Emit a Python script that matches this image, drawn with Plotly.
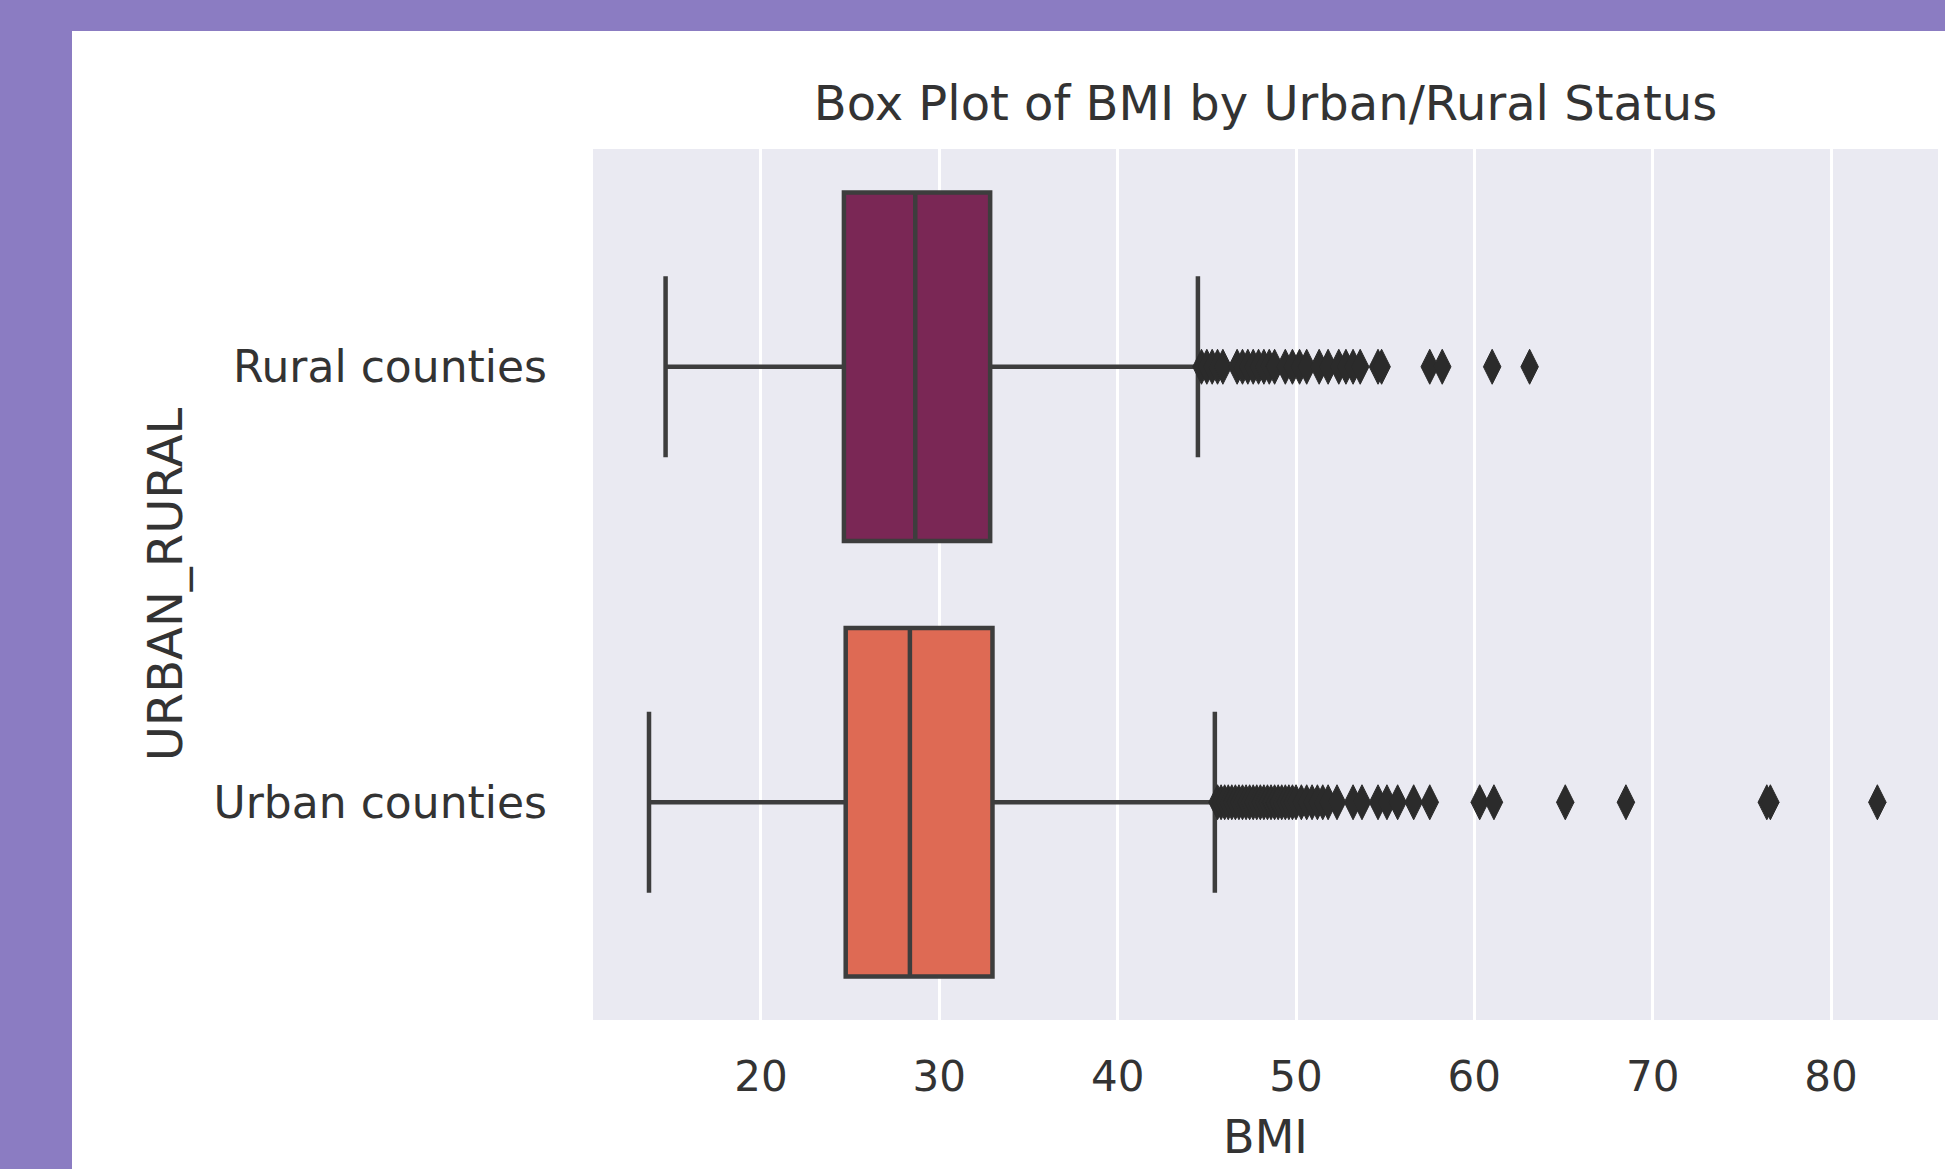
import plotly.graph_objects as go

# ---- data ----
categories = ["Rural counties", "Urban counties"]
q1_vals = [24.65, 24.75]
median_vals = [28.65, 28.35]
q3_vals = [32.85, 32.98]
lower_whisker = [14.65, 13.72]
upper_whisker = [44.5, 45.45]

rural_outliers = [44.7, 45.0, 45.3, 45.6, 45.9, 46.7, 47.0, 47.3, 47.6, 47.9,
                  48.2, 48.5, 48.8, 49.4, 49.8, 50.2, 50.6, 51.3, 51.8, 52.4,
                  52.8, 53.2, 53.6, 54.6, 54.8, 57.5, 58.2, 61.0, 63.1]
urban_outliers = [45.6, 45.8, 46.0, 46.2, 46.4, 46.6, 46.8, 47.0, 47.2, 47.4,
                  47.6, 47.8, 48.0, 48.2, 48.4, 48.6, 48.8, 49.0, 49.2, 49.4,
                  49.6, 49.8, 50.0, 50.3, 50.6, 50.9, 51.2, 51.5, 51.8, 52.3,
                  53.2, 53.7, 54.6, 55.1, 55.7, 56.6, 57.5, 60.3, 61.1, 65.1,
                  68.5, 76.4, 76.6, 82.6]
x_ticks = [20, 30, 40, 50, 60, 70, 80]

box_colors = ["#7A2755", "#DE6A54"]
line_color = "#3d3d3d"
text_color = "#333333"
purple = "#8B7CC2"

# ---- layout geometry (pixels) ----
FIG_W, FIG_H = 1945, 1169
L, R, T, B = 593, 7, 149, 149
PW, PH = FIG_W - L - R, FIG_H - T - B


def pxx(px):
    return (px - L) / PW


def pxy(py):
    return 1 - (py - T) / PH


fig = go.Figure()
for i, cat in enumerate(categories):
    fig.add_trace(go.Box(
        y=[cat], q1=[q1_vals[i]], median=[median_vals[i]], q3=[q3_vals[i]],
        lowerfence=[lower_whisker[i]], upperfence=[upper_whisker[i]],
        orientation="h", width=0.8, whiskerwidth=0.52,
        fillcolor=box_colors[i], line=dict(color=line_color, width=4.5),
        boxpoints=False, showlegend=False, hoverinfo="skip",
    ))

for cat, outs in zip(categories, [rural_outliers, urban_outliers]):
    fig.add_trace(go.Scatter(
        x=outs, y=[cat] * len(outs), mode="markers", showlegend=False,
        marker=dict(symbol="diamond-tall", size=25, color="#2b2b2b",
                    line=dict(color="#2b2b2b", width=1)),
    ))

fig.update_layout(
    width=FIG_W, height=FIG_H,
    margin=dict(l=L, r=R, t=T, b=B, pad=0),
    paper_bgcolor="white", plot_bgcolor="#EAEAF2",
    font=dict(family="DejaVu Sans", color=text_color, size=42),
    title=dict(text="Box Plot of BMI by Urban/Rural Status", x=0.5, xref="paper",
               xanchor="center", y=1 - 103 / FIG_H, yref="container", yanchor="middle",
               font=dict(size=48, color=text_color)),
    xaxis=dict(range=[10.58, 86.0], tickvals=x_ticks, showgrid=True, gridcolor="white",
               gridwidth=2.5, zeroline=False, showline=False, ticks="",
               ticklabelstandoff=28, tickfont=dict(size=42),
               title=dict(text="BMI", font=dict(size=46), standoff=20)),
    yaxis=dict(type="category", categoryorder="array", categoryarray=categories,
               range=[1.5, -0.5], showgrid=False, zeroline=False, showline=False,
               ticks="", ticklabelstandoff=45, tickfont=dict(size=44),
               title=dict(text="URBAN_RURAL", font=dict(size=48), standoff=15)),
    shapes=[
        dict(type="rect", xref="paper", yref="paper", x0=pxx(-5), x1=pxx(72),
             y0=pxy(FIG_H + 5), y1=pxy(-5), fillcolor=purple, line=dict(width=0), layer="above"),
        dict(type="rect", xref="paper", yref="paper", x0=pxx(-5), x1=pxx(FIG_W + 5),
             y0=pxy(31), y1=pxy(-5), fillcolor=purple, line=dict(width=0), layer="above"),
    ],
)

fig.write_html("out.html", config={"displayModeBar": False},
               post_script="document.body.style.margin='0';document.body.style.overflow='hidden';")
